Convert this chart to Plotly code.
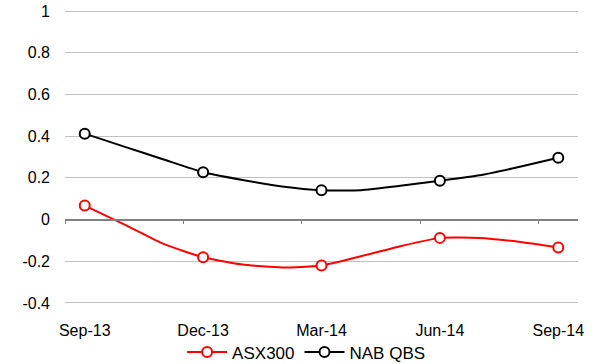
import plotly.graph_objects as go

# Monthly observations, Sep-13 to Sep-14
months = ["Sep-13", "Oct-13", "Nov-13", "Dec-13", "Jan-14", "Feb-14", "Mar-14",
          "Apr-14", "May-14", "Jun-14", "Jul-14", "Aug-14", "Sep-14"]
asx300 = [0.067, -0.023, -0.117, -0.181, -0.216, -0.230, -0.221,
          -0.176, -0.128, -0.088, -0.088, -0.107, -0.134]
nab_qbs = [0.412, 0.350, 0.288, 0.227, 0.190, 0.159, 0.141,
           0.141, 0.162, 0.186, 0.212, 0.252, 0.296]
quarter_labels = ["Sep-13", "Dec-13", "Mar-14", "Jun-14", "Sep-14"]
y_ticks = [-0.4, -0.2, 0, 0.2, 0.4, 0.6, 0.8, 1]
y_ticktext = ["-0.4", "-0.2", "0", "0.2", "0.4", "0.6", "0.8", "1"]

series = [("ASX300", asx300, "#ff0000"), ("NAB QBS", nab_qbs, "#000000")]

idx = list(range(len(months)))
q_idx = [months.index(m) for m in quarter_labels]

FONT = "Liberation Sans, Arial, sans-serif"
y_lo, y_hi = -0.41, 1.01

fig = go.Figure()
for name, vals, col in series:
    # smoothed monthly line
    fig.add_trace(go.Scatter(
        x=idx, y=vals, mode="lines", line=dict(color=col, width=2, shape="spline", smoothing=0.5),
        showlegend=False, hoverinfo="skip"))
    # quarterly markers
    fig.add_trace(go.Scatter(
        x=[idx[i] for i in q_idx], y=[vals[i] for i in q_idx], mode="markers",
        marker=dict(symbol="circle", size=10, color="white", line=dict(color=col, width=2)),
        showlegend=False, name=name))
for name, vals, col in series:
    # legend entries
    fig.add_trace(go.Scatter(
        x=[None], y=[None], mode="lines+markers", name=name, xaxis="x2",
        line=dict(color=col, width=2),
        marker=dict(symbol="circle", size=10, color="white", line=dict(color=col, width=2))))

x_range = [-0.5, len(months) - 0.5]
zero_pos = (0 - y_lo) / (y_hi - y_lo)

fig.update_layout(
    width=603, height=364,
    margin=dict(l=65, r=25, t=9, b=59, autoexpand=False),
    paper_bgcolor="white", plot_bgcolor="white",
    font=dict(family=FONT, size=16, color="#000000"),
    xaxis=dict(range=x_range, tickmode="array", tickvals=q_idx, ticktext=quarter_labels,
               showgrid=False, zeroline=False, showline=False, ticks="",
               ticklabelstandoff=14, tickfont=dict(size=16), automargin=False),
    xaxis2=dict(type="linear", overlaying="x", anchor="free", position=zero_pos,
                range=x_range, tickmode="array", tickvals=[i - 0.5 for i in q_idx],
                showticklabels=False, ticks="outside", ticklen=4, tickwidth=1,
                tickcolor="#808080", showline=True, linecolor="#808080", linewidth=1.5,
                showgrid=False, zeroline=False, automargin=False),
    yaxis=dict(range=[y_lo, y_hi], tickmode="array", tickvals=y_ticks, ticktext=y_ticktext,
               showgrid=True, gridcolor="#c0c0c0", gridwidth=1, zeroline=False,
               showline=False, ticks="", ticklabelstandoff=14, tickfont=dict(size=16),
               automargin=False),
    legend=dict(orientation="h", x=0.47, xanchor="center", y=-0.16, yanchor="middle",
                font=dict(size=17), bgcolor="rgba(0,0,0,0)", itemwidth=40,
                tracegroupgap=0),
    showlegend=True,
)

fig.write_html("out.html")
